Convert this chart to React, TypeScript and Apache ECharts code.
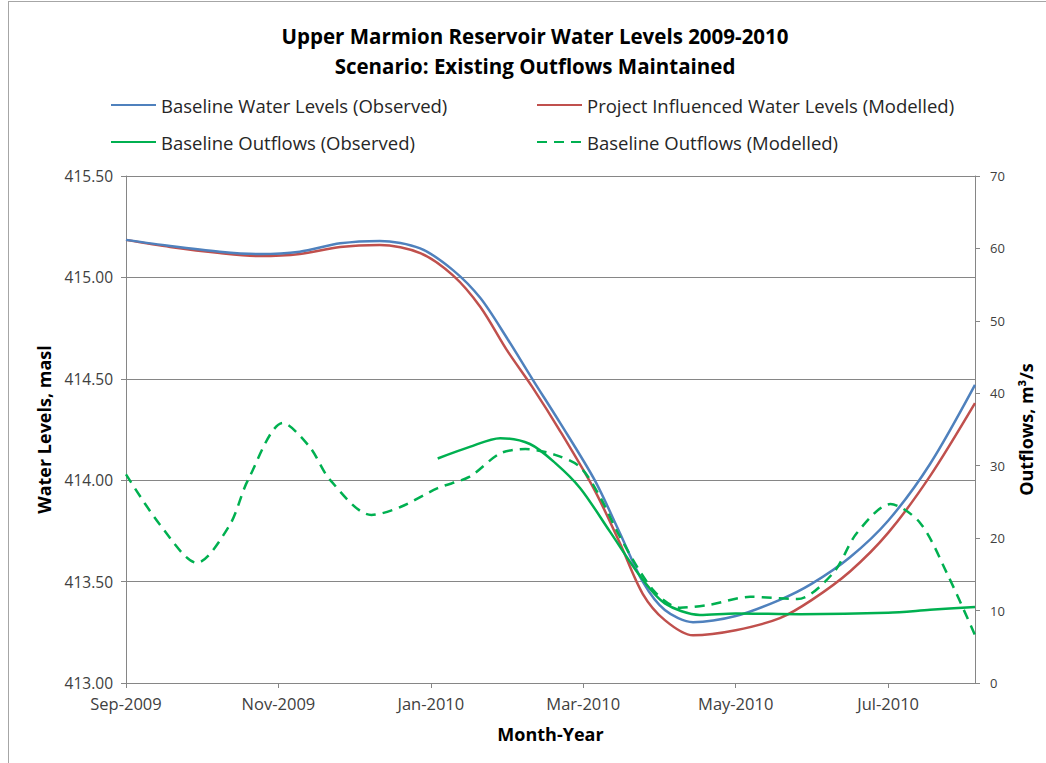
import React, { useEffect, useRef } from "react";
import * as echarts from "echarts";

const monthLabels = ["Sep-2009", "Oct-2009", "Nov-2009", "Dec-2009", "Jan-2010", "Feb-2010", "Mar-2010", "Apr-2010", "May-2010", "Jun-2010", "Jul-2010", "Aug-2010"];
const tickMonths = [0, 2, 4, 6, 8, 10];

// x positions are months since Sep-2009
const levelMonths = [0, 0.58, 1.23, 1.76, 2.28, 2.81, 3.33, 3.86, 4.29, 4.65, 5.0, 5.33, 5.7, 6.15, 6.48, 6.78, 7.07, 7.44, 8.0, 8.58, 9.0, 9.5, 10.0, 10.55, 11.14];
const baselineLevels = [415.185, 415.155, 415.127, 415.115, 415.127, 415.168, 415.18, 415.143, 415.036, 414.898, 414.7, 414.5, 414.28, 414.0, 413.74, 413.5, 413.36, 413.3, 413.33, 413.41, 413.49, 413.62, 413.8, 414.08, 414.47];
const projectLevels = [415.185, 415.15, 415.12, 415.105, 415.115, 415.15, 415.16, 415.12, 415.01, 414.854, 414.64, 414.46, 414.24, 413.95, 413.69, 413.44, 413.31, 413.235, 413.26, 413.32, 413.41, 413.55, 413.74, 414.02, 414.38];

const observedFlowMonths = [4.09, 4.51, 4.91, 5.3, 5.63, 5.96, 6.35, 6.75, 7.07, 7.53, 8.0, 8.85, 10.0, 10.55, 11.14];
const observedFlows = [31.0, 32.6, 33.8, 33.0, 30.4, 26.9, 20.9, 14.7, 11.0, 9.4, 9.6, 9.5, 9.7, 10.1, 10.5];

const modelledFlowMonths = [0, 0.45, 0.93, 1.36, 1.6, 2.06, 2.41, 2.68, 3.22, 3.6, 4.09, 4.51, 4.91, 5.24, 5.63, 5.96, 6.22, 6.48, 6.92, 7.27, 7.66, 8.19, 8.81, 9.28, 9.59, 10.03, 10.42, 10.77, 11.14];
const modelledFlows = [28.8, 21.8, 16.6, 21.8, 28.0, 35.9, 32.6, 28.0, 23.2, 24.3, 26.9, 28.5, 31.7, 32.3, 31.5, 29.8, 25.7, 20.2, 12.8, 10.4, 10.8, 11.9, 11.6, 15.2, 20.7, 24.7, 22.1, 15.2, 6.6];

const zip = (xs: number[], ys: number[]) => xs.map((x, i) => [x, ys[i]]);

const FONT = "Open Sans";
const AXIS_COLOR = "#868686";

export default function App() {
  const ref = useRef<HTMLDivElement>(null);
  useEffect(() => {
    if (!ref.current) return;
    const chart = echarts.init(ref.current, null, { renderer: "svg" });
    const lineBase = { type: "line", smooth: 0.3, symbol: "none", showSymbol: false };
    const legendCommon = {
      orient: "vertical", top: 89, itemWidth: 45, itemHeight: 14, itemGap: 15,
      itemStyle: { opacity: 0 },
      textStyle: { fontSize: 18.5, color: "#262626", fontFamily: FONT, lineHeight: 22 },
    };
    const nameStyle = { fontSize: 18, fontWeight: "bold", color: "#000", fontFamily: FONT };
    chart.setOption({
      animation: false,
      backgroundColor: "#ffffff",
      textStyle: { fontFamily: FONT },
      graphic: [
        { type: "line", shape: { x1: 8, y1: 1.5, x2: 1046, y2: 1.5 }, style: { stroke: "#a6a6a6", lineWidth: 1 } },
        { type: "line", shape: { x1: 8.5, y1: 1.5, x2: 8.5, y2: 763 }, style: { stroke: "#a6a6a6", lineWidth: 1 } },
        { type: "text", x: 535, y: 36, style: { text: "Upper Marmion Reservoir Water Levels 2009-2010", font: `bold 20.5px '${FONT}'`, fill: "#000", textAlign: "center", textVerticalAlign: "middle" } },
        { type: "text", x: 535, y: 66, style: { text: "Scenario: Existing Outflows Maintained", font: `bold 20.5px '${FONT}'`, fill: "#000", textAlign: "center", textVerticalAlign: "middle" } },
      ],
      legend: [
        { ...legendCommon, left: 105, data: ["Baseline Water Levels (Observed)", "Baseline Outflows (Observed)"] },
        { ...legendCommon, left: 531, data: ["Project Influenced Water Levels (Modelled)", "Baseline Outflows (Modelled)"] },
      ],
      grid: { left: 126, right: 71, top: 176, bottom: 80, containLabel: false },
      xAxis: {
        type: "value", min: 0, max: 11.14,
        name: "Month-Year", nameLocation: "middle", nameGap: 42,
        nameTextStyle: nameStyle,
        axisLine: { show: true, lineStyle: { color: AXIS_COLOR } },
        axisTick: { show: true, length: 5, inside: false, customValues: tickMonths, lineStyle: { color: AXIS_COLOR } },
        axisLabel: { customValues: tickMonths, formatter: (v: number) => monthLabels[Math.round(v)] ?? "", fontSize: 16.5, color: "#404040", margin: 12, fontFamily: FONT },
        splitLine: { show: false },
      },
      yAxis: [
        {
          type: "value", min: 413, max: 415.5, interval: 0.5, position: "left",
          name: "Water Levels, masl", nameLocation: "middle", nameRotate: 90, nameGap: 73,
          nameTextStyle: nameStyle,
          axisLine: { show: true, lineStyle: { color: AXIS_COLOR } },
          axisTick: { show: true, length: 5, lineStyle: { color: AXIS_COLOR } },
          axisLabel: { formatter: (v: number) => v.toFixed(2), fontSize: 15.5, color: "#404040", margin: 13, fontFamily: FONT },
          splitLine: { show: true, lineStyle: { color: AXIS_COLOR, width: 1 } },
        },
        {
          type: "value", min: 0, max: 70, interval: 10, position: "right",
          name: "Outflows, m³/s", nameLocation: "middle", nameRotate: 90, nameGap: 42,
          nameTextStyle: nameStyle,
          axisLine: { show: true, lineStyle: { color: AXIS_COLOR } },
          axisTick: { show: true, length: 5, lineStyle: { color: AXIS_COLOR } },
          axisLabel: { fontSize: 13, color: "#404040", margin: 15, fontFamily: FONT },
          splitLine: { show: false },
        },
      ],
      series: [
        { ...lineBase, name: "Baseline Water Levels (Observed)", yAxisIndex: 0, data: zip(levelMonths, baselineLevels), itemStyle: { color: "#4f81bd" }, lineStyle: { color: "#4f81bd", width: 2.5 }, z: 4 },
        { ...lineBase, name: "Project Influenced Water Levels (Modelled)", yAxisIndex: 0, data: zip(levelMonths, projectLevels), itemStyle: { color: "#c0504d" }, lineStyle: { color: "#c0504d", width: 2.5 }, z: 3 },
        { ...lineBase, name: "Baseline Outflows (Observed)", yAxisIndex: 1, data: zip(observedFlowMonths, observedFlows), itemStyle: { color: "#00b050" }, lineStyle: { color: "#00b050", width: 2.5 }, z: 5 },
        { ...lineBase, name: "Baseline Outflows (Modelled)", yAxisIndex: 1, data: zip(modelledFlowMonths, modelledFlows), itemStyle: { color: "#00b050" }, lineStyle: { color: "#00b050", width: 2.5, type: [10, 7] }, z: 5 },
      ],
    });
    return () => chart.dispose();
  }, []);
  return <div ref={ref} style={{ position: "fixed", left: 0, top: 0, width: 1046, height: 763 }} />;
}
